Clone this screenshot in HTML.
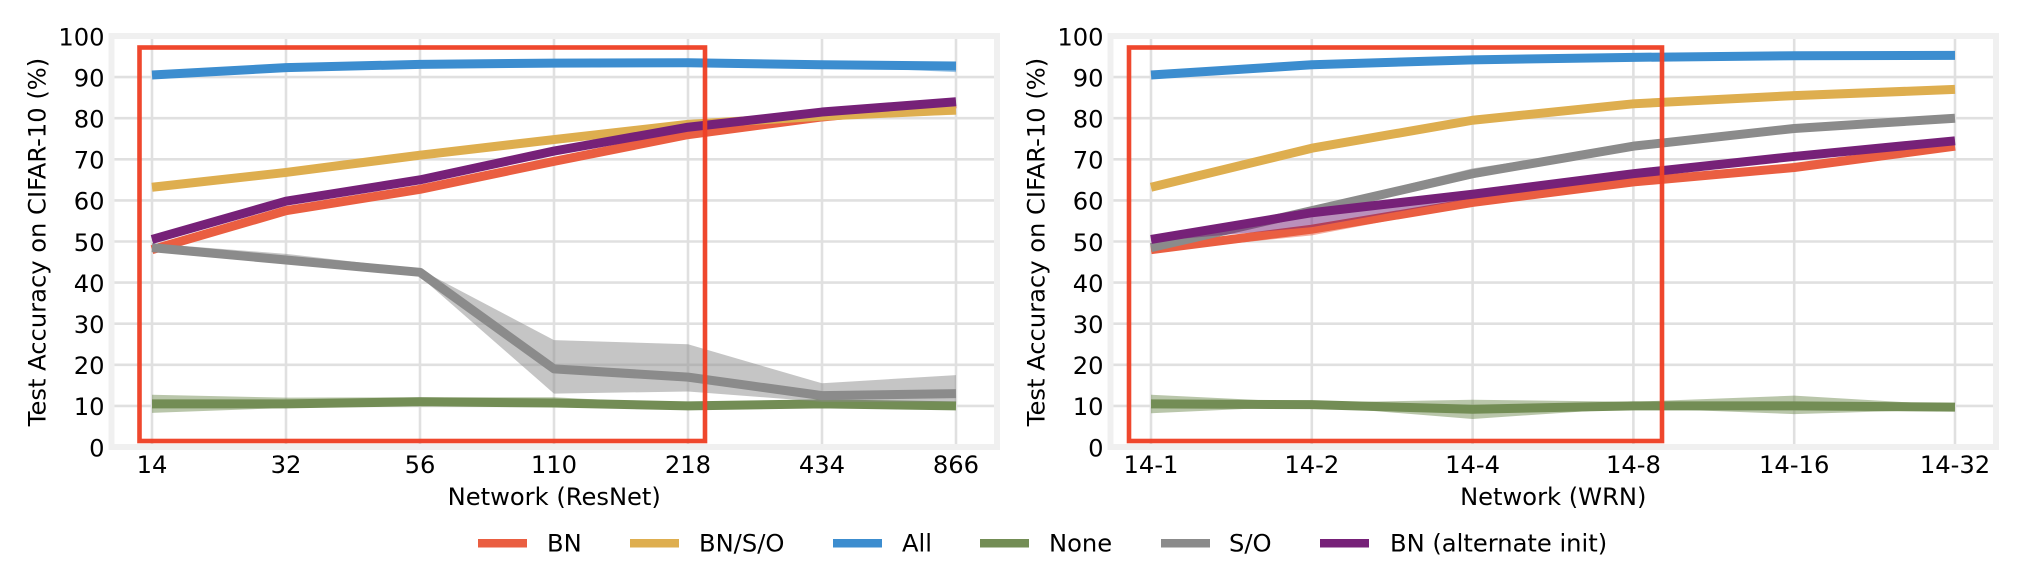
<!DOCTYPE html>
<html>
<head>
<meta charset="utf-8">
<style>
html,body{margin:0;padding:0;background:#fff;width:2028px;height:570px;overflow:hidden}
svg{display:block}
text{font-family:"DejaVu Sans","Liberation Sans",sans-serif;font-size:24.2px;fill:#000}
</style>
</head>
<body>
<svg id="figure" width="2028" height="570" viewBox="0 0 2028 570" xmlns="http://www.w3.org/2000/svg">
  <g id="panel-left"></g>
  <g id="panel-right"></g>
  <g>
    <rect x="478" y="539" width="49" height="8.5" fill="#ea5e41"/>
    <text x="547" y="551.7">BN</text>
    <rect x="630" y="539" width="49" height="8.5" fill="#deae4f"/>
    <text x="699" y="551.7">BN/S/O</text>
    <rect x="833" y="539" width="49" height="8.5" fill="#3c8dcf"/>
    <text x="902" y="551.7">All</text>
    <rect x="980" y="539" width="49" height="8.5" fill="#738d55"/>
    <text x="1049" y="551.7">None</text>
    <rect x="1161" y="539" width="49" height="8.5" fill="#8b8b8b"/>
    <text x="1229" y="551.7">S/O</text>
    <rect x="1320" y="539" width="49" height="8.5" fill="#762178"/>
    <text x="1390" y="551.7">BN (alternate init)</text>
  </g>
</svg>
<script>
const yTicks = [0,10,20,30,40,50,60,70,80,90,100];

const resnetCategories = ['14','32','56','110','218','434','866'];
const resnetBN = [48,57.5,62.7,69.5,76,80.3,83.5];
const resnetBNLow = [47.5,57,62,69,75.5,80,83];
const resnetBNHigh = [49,58,63.3,70,76.5,80.6,84];
const resnetBSO = [63.2,66.8,71,74.8,78.5,80.5,82];
const resnetBSOLow = [62.8,65.8,70.2,74.5,78.2,80,80.8];
const resnetBSOHigh = [63.6,67.8,71.8,75.1,78.8,81,82.6];
const resnetAll = [90.5,92.3,93.1,93.4,93.5,93,92.7];
const resnetAllLow = [90.2,92,92.8,93.1,93.2,92.7,91.2];
const resnetAllHigh = [90.8,92.6,93.4,93.7,93.8,93.3,93.2];
const resnetNone = [10.5,10.5,11,10.7,10,10.5,10];
const resnetNoneLow = [8.3,9.5,10.2,10,9.7,10.2,9.7];
const resnetNoneHigh = [12.7,12,12.1,12.1,10.4,10.8,10.3];
const resnetSO = [48.5,45.5,42.5,19,17,12.5,13];
const resnetSOLow = [47.5,44.8,41.5,13,13.5,11,11];
const resnetSOHigh = [49.5,47,43.2,26,25,15.5,17.5];
const resnetAlt = [50.5,59.8,65,72,77.8,81.5,84];
const resnetAltLow = [50,59.4,64.6,71.7,77.4,81.2,83.7];
const resnetAltHigh = [51,60.2,65.4,72.3,78.2,81.8,84.3];

const wrnCategories = ['14-1','14-2','14-4','14-8','14-16','14-32'];
const wrnBN = [48,53,59.5,64.5,68,73.2];
const wrnBNLow = [47.5,51.5,59,64,67.7,73];
const wrnBNHigh = [48.5,54,60,65,68.3,73.4];
const wrnBSO = [63.2,72.7,79.5,83.5,85.5,87];
const wrnBSOLow = [62.9,72.4,79,83.2,85.2,86.7];
const wrnBSOHigh = [63.5,73,80,83.8,85.8,87.3];
const wrnAll = [90.5,93,94.2,94.8,95.2,95.3];
const wrnAllLow = [90.2,92.8,94,94.6,95,95.1];
const wrnAllHigh = [90.8,93.2,94.4,95,95.4,95.5];
const wrnNone = [10.5,10.3,9.2,10,10,9.7];
const wrnNoneLow = [8.2,10,6.8,9.5,8,9.2];
const wrnNoneHigh = [12.7,10.8,11.5,11,12.5,10.2];
const wrnSO = [48.5,57.5,66.5,73.2,77.5,80];
const wrnSOLow = [48,57,65.4,72.9,77.2,79.7];
const wrnSOHigh = [49,58.2,67.8,73.6,77.8,80.3];
const wrnAlt = [50.5,57,61.5,66.5,70.7,74.5];
const wrnAltLow = [50,53.5,60.5,66,70.4,74.2];
const wrnAltHigh = [51,58,62,67,71,74.8];

const NS = 'http://www.w3.org/2000/svg';
const yTop = 36, yBottom = 447;
function yScale(v){ return yBottom - (v - 0) / 100 * (yBottom - yTop); }

function makeX(first, step){ return function(i){ return first + i * step; }; }

function pts(xs, ys, xf){ return ys.map(function(v,i){ return xf(i).toFixed(2)+','+yScale(v).toFixed(2); }).join(' '); }

function line(parent, x1, y1, x2, y2, color, w, name){
  const el = document.createElementNS(NS,'line');
  el.setAttribute('x1',x1); el.setAttribute('y1',y1);
  el.setAttribute('x2',x2); el.setAttribute('y2',y2);
  el.setAttribute('stroke',color); el.setAttribute('stroke-width',w);
  
  
  parent.appendChild(el);
}

function text(parent, x, y, str, anchor, name, rotate){
  const el = document.createElementNS(NS,'text');
  el.setAttribute('x',x); el.setAttribute('y',y);
  el.setAttribute('text-anchor',anchor);
  if(rotate){ el.setAttribute('transform','rotate(-90 '+x+' '+y+')'); }
  el.textContent = str;
  
  
  parent.appendChild(el);
}

function drawPanel(id, cfg){
  const g = document.getElementById(id);
  const xf = makeX(cfg.first, cfg.step);
  /* grid */
  yTicks.forEach(function(t){
    line(g, cfg.left, yScale(t), cfg.right, yScale(t), '#e0e0e0', 2.6, 'y-gridline');
    text(g, cfg.left - 7, yScale(t) + 9.3, String(t), 'end', 'y-tick-label');
  });
  cfg.cats.forEach(function(c,i){
    line(g, xf(i), yTop, xf(i), yBottom + 3, '#e0e0e0', 2.6, 'x-gridline');
    text(g, xf(i), 473, c, 'middle', 'x-tick-label');
  });
  /* spines */
  const sp = document.createElementNS(NS,'rect');
  sp.setAttribute('x',cfg.left); sp.setAttribute('y',yTop);
  sp.setAttribute('width',cfg.right-cfg.left); sp.setAttribute('height',yBottom-yTop);
  sp.setAttribute('fill','none'); sp.setAttribute('stroke','#f0f0f0'); sp.setAttribute('stroke-width',6);
  
  
  g.appendChild(sp);
  /* series */
  cfg.series.forEach(function(s){
    const band = document.createElementNS(NS,'polygon');
    band.setAttribute('points', pts(null,s.high,xf)+' '+pts(null,s.low.slice().reverse(),function(i){return xf(s.low.length-1-i);}));
    band.setAttribute('fill',s.color); band.setAttribute('fill-opacity',0.5);
    
    
    g.appendChild(band);
    const pl = document.createElementNS(NS,'polyline');
    pl.setAttribute('points', pts(null,s.mean,xf));
    pl.setAttribute('fill','none'); pl.setAttribute('stroke',s.color);
    pl.setAttribute('stroke-width',9); pl.setAttribute('stroke-linejoin','round');
    
    
    g.appendChild(pl);
  });
  /* red highlight */
  const box = document.createElementNS(NS,'rect');
  box.setAttribute('x',cfg.boxL); box.setAttribute('y',47.5);
  box.setAttribute('width',cfg.boxR-cfg.boxL); box.setAttribute('height',393.5);
  box.setAttribute('fill','none'); box.setAttribute('stroke','#ee4126'); box.setAttribute('stroke-width',4.6);
  box.setAttribute('stroke-opacity',0.97);
  
  
  g.appendChild(box);
  /* titles */
  text(g, (cfg.left+cfg.right)/2, 505, cfg.xTitle, 'middle', 'x-axis-title');
  text(g, cfg.yTitleX, 242, 'Test Accuracy on CIFAR-10 (%)', 'middle', 'y-axis-title', true);
}

drawPanel('panel-left',{
  left:111.5,right:997,first:152,step:134,boxL:139.5,boxR:705,yTitleX:45.3,
  cats:resnetCategories,xTitle:'Network (ResNet)',
  series:[
    {name:'bn',color:'#ea5e41',mean:resnetBN,low:resnetBNLow,high:resnetBNHigh},
    {name:'bn-s-o',color:'#deae4f',mean:resnetBSO,low:resnetBSOLow,high:resnetBSOHigh},
    {name:'all',color:'#3c8dcf',mean:resnetAll,low:resnetAllLow,high:resnetAllHigh},
    {name:'none',color:'#738d55',mean:resnetNone,low:resnetNoneLow,high:resnetNoneHigh},
    {name:'s-o',color:'#8b8b8b',mean:resnetSO,low:resnetSOLow,high:resnetSOHigh},
    {name:'bn-alternate-init',color:'#762178',mean:resnetAlt,low:resnetAltLow,high:resnetAltHigh}
  ]
});
drawPanel('panel-right',{
  left:1110.5,right:1996,first:1151,step:160.8,boxL:1129,boxR:1662,yTitleX:1044.5,
  cats:wrnCategories,xTitle:'Network (WRN)',
  series:[
    {name:'bn',color:'#ea5e41',mean:wrnBN,low:wrnBNLow,high:wrnBNHigh},
    {name:'bn-s-o',color:'#deae4f',mean:wrnBSO,low:wrnBSOLow,high:wrnBSOHigh},
    {name:'all',color:'#3c8dcf',mean:wrnAll,low:wrnAllLow,high:wrnAllHigh},
    {name:'none',color:'#738d55',mean:wrnNone,low:wrnNoneLow,high:wrnNoneHigh},
    {name:'s-o',color:'#8b8b8b',mean:wrnSO,low:wrnSOLow,high:wrnSOHigh},
    {name:'bn-alternate-init',color:'#762178',mean:wrnAlt,low:wrnAltLow,high:wrnAltHigh}
  ]
});
</script>
</body>
</html>
